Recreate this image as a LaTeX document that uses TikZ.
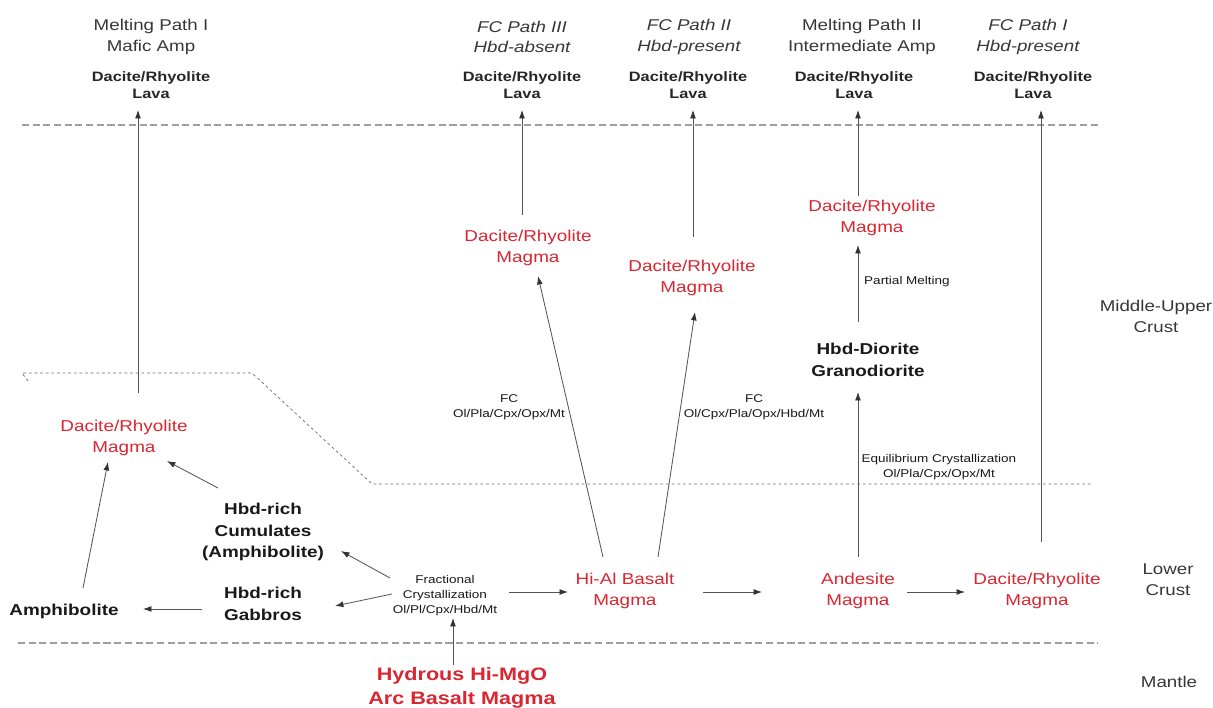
\documentclass[tikz,border=0pt]{standalone}
\usepackage{fontspec}
\setmainfont{Liberation Sans}[FakeStretch=1.2]
\usetikzlibrary{arrows.meta,calc}

\definecolor{magred}{RGB}{217,38,48}
\definecolor{txtgray}{RGB}{55,55,55}
\definecolor{linegray}{RGB}{85,85,85}

\begin{document}
\begin{tikzpicture}[x=0.025cm,y=-0.025cm,
  head/.style={align=center,inner sep=0pt,text=txtgray,font=\fontsize{11.1}{14.5}\selectfont},
  headit/.style={head,font=\fontsize{11.1}{14.5}\selectfont\itshape},
  lava/.style={align=center,inner sep=0pt,text=black!85,font=\fontsize{9.7}{12.6}\selectfont\bfseries},
  magma/.style={align=center,inner sep=0pt,text=magred,font=\fontsize{11.2}{14.8}\selectfont},
  rock/.style={align=center,inner sep=0pt,text=black!90,font=\fontsize{11.2}{15.2}\selectfont\bfseries},
  note/.style={align=center,inner sep=0pt,text=black!90,font=\fontsize{8}{10.7}\selectfont},
  layer/.style={align=center,inner sep=0pt,text=txtgray,font=\fontsize{11.1}{15}\selectfont},
  arr/.style={draw=linegray,line width=0.6pt,-{Latex[length=6pt,width=4.2pt,color=black!80]}},
  bound/.style={draw=gray!75,line width=0.8pt,dash pattern=on 5pt off 2.6pt},
  crust/.style={draw=gray!85!black,line width=0.5pt,dash pattern=on 2pt off 2pt}]

\useasboundingbox (0,0) rectangle (1213,708);

% layer boundaries
\draw[bound] (22,125) -- (1099,125);
\draw[bound] (18,643) -- (1098,643);
\draw[crust] (28,381) -- (22,373) -- (252,373) -- (372,484) -- (1093,484);

% path headings
\node[head]   (h1)  at (151,37)  {Melting Path I\\Mafic Amp};
\node[headit] (h3)  at (522,37)  {FC Path III\\Hbd-absent};
\node[headit] (h2)  at (689,37)  {FC Path II\\Hbd-present};
\node[head]   (hm2) at (862,37)  {Melting Path II\\Intermediate Amp};
\node[headit] (hf1) at (1028,37) {FC Path I\\Hbd-present};

\node[lava] (lava1)  at (151,85)  {Dacite/Rhyolite\\Lava};
\node[lava] (lava3)  at (522,85)  {Dacite/Rhyolite\\Lava};
\node[lava] (lava2)  at (688,85)  {Dacite/Rhyolite\\Lava};
\node[lava] (lavam2) at (854,85)  {Dacite/Rhyolite\\Lava};
\node[lava] (lavaf1) at (1033,85) {Dacite/Rhyolite\\Lava};

% magmas and rocks
\node[magma] (lmag)  at (124,438)  {Dacite/Rhyolite\\Magma};
\node[magma] (dr3)   at (528,248)  {Dacite/Rhyolite\\Magma};
\node[magma] (dr2)   at (692,278)  {Dacite/Rhyolite\\Magma};
\node[magma] (drm)   at (872,218)  {Dacite/Rhyolite\\Magma};
\node[magma] (hial)  at (625,591)  {Hi-Al Basalt\\Magma};
\node[magma] (andes) at (858,591)  {Andesite\\Magma};
\node[magma] (drlow) at (1037,591) {Dacite/Rhyolite\\Magma};

\node[rock] (hbd)   at (868,360) {Hbd-Diorite\\Granodiorite};
\node[rock] (amph)  at (64,611)  {Amphibolite};
\node[rock] (gabb)  at (263,604) {Hbd-rich\\Gabbros};
\node[rock] (cumul) at (263,532) {Hbd-rich\\Cumulates\\(Amphibolite)};
\node[rock,text=magred,font=\fontsize{12.8}{16.6}\selectfont\bfseries] (hydr) at (462,688) {Hydrous Hi-MgO\\Arc Basalt Magma};

% process labels
\node[note] (frac) at (445,596) {Fractional\\Crystallization\\Ol/Pl/Cpx/Hbd/Mt};
\node[note] (fca)  at (509,407) {FC\\Ol/Pla/Cpx/Opx/Mt};
\node[note] (fcb)  at (754,407) {FC\\Ol/Cpx/Pla/Opx/Hbd/Mt};
\node[note] (eqcr) at (939,467) {Equilibrium Crystallization\\Ol/Pla/Cpx/Opx/Mt};
\node[note] (pm)   at (907,282) {Partial Melting};

% layers
\node[layer] (mup)    at (1156,316) {Middle-Upper\\Crust};
\node[layer] (lower)  at (1168,580) {Lower\\Crust};
\node[layer] (mantle) at (1169,682) {Mantle};

% arrows
\draw[arr] ($(lmag)+(14,-45)$)  -- ($(lava1)+(-13,25)$);
\draw[arr] ($(dr3)+(-6,-33)$)   -- ($(lava3)+(0,25)$);
\draw[arr] ($(dr2)+(1,-41)$)    -- ($(lava2)+(5,25)$);
\draw[arr] ($(drm)+(-14,-22)$)  -- ($(lavam2)+(4,25)$);
\draw[arr] ($(drlow)+(4,-49)$)  -- ($(lavaf1)+(8,25)$);
\draw[arr] ($(hbd)+(-10,-38)$)  -- ($(drm)+(-14,27)$);
\draw[arr] ($(andes)+(0,-34)$)  -- ($(hbd)+(-10,32)$);
\draw[arr] ($(hial)+(-22,-34)$) -- ($(dr3)+(10,28)$);
\draw[arr] ($(hial)+(33,-34)$)  -- ($(dr2)+(3,34)$);
\draw[arr] ($(frac)+(64,-4)$)   -- ($(hial)+(-57,1)$);
\draw[arr] ($(hial)+(78,1)$)    -- ($(andes)+(-96,1)$);
\draw[arr] ($(andes)+(49,1)$)   -- ($(drlow)+(-72,1)$);
\draw[arr] ($(hydr)+(-9,-23)$)  -- ($(frac)+(8,22)$);
\draw[arr] ($(frac)+(-55,-18)$) -- ($(cumul)+(78,19)$);
\draw[arr] ($(frac)+(-53,-2)$)  -- ($(gabb)+(72,2)$);
\draw[arr] ($(gabb)+(-61,5)$)   -- ($(amph)+(79,-2)$);
\draw[arr] ($(cumul)+(-45,-44)$) -- ($(lmag)+(43,23)$);
\draw[arr] ($(amph)+(19,-23)$)  -- ($(lmag)+(-16,24)$);
\end{tikzpicture}
\end{document}
